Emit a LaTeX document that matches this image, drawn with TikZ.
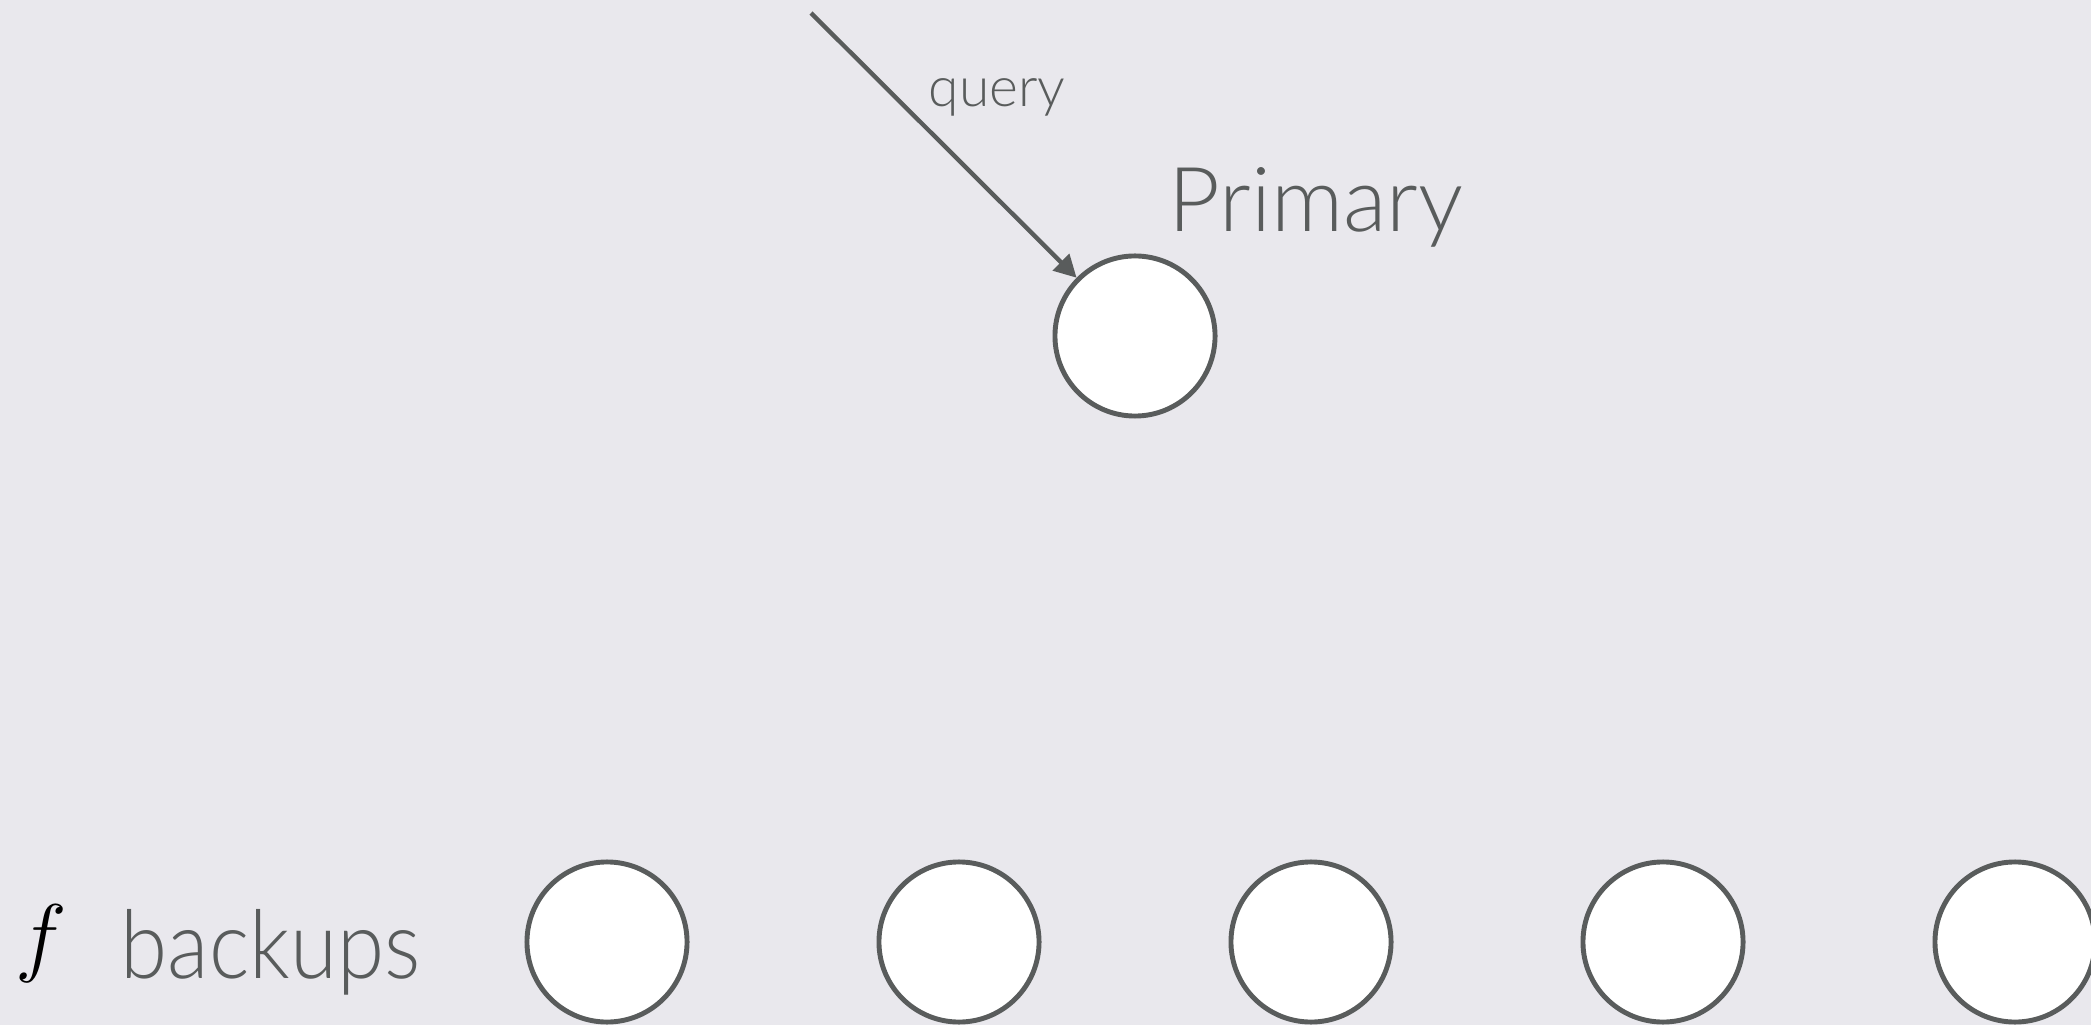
\documentclass[tikz,border=0pt]{standalone}
\usepackage{fontspec}
\newfontfamily\labfont{Lato Light}
\usetikzlibrary{arrows.meta}
\definecolor{bgcol}{RGB}{233,232,237}
\definecolor{inkcol}{RGB}{89,92,92}
\tikzset{
  server/.style={circle, draw=inkcol, fill=white, line width=1.4pt, minimum size=1.6cm, inner sep=0pt},
  conn/.style={draw=inkcol, line width=1.25pt, -{Triangle[length=6.3pt,width=6.5pt]}},
  lbl/.style={text=inkcol, inner sep=0pt, anchor=base west, font=\labfont}
}
\begin{document}
\begin{tikzpicture}[x=0.01cm, y=-0.01cm]
\fill[bgcol] (0,0) rectangle (2091,1025);
\useasboundingbox (0,0) rectangle (2091,1025);
\node[server] (p) at (1135,336) {};
\node[server] (b1) at (607,942) {};
\node[server] (b2) at (959,942) {};
\node[server] (b3) at (1311,942) {};
\node[server] (b4) at (1663,942) {};
\node[server] (b5) at (2015,942) {};
\coordinate (qs) at (811,13);
\draw[conn] (qs) -- (p);
\node[lbl, font=\labfont\fontsize{15.7}{18}\selectfont] (ql) at (928,107) {query};
\node[lbl, font=\labfont\fontsize{25.5}{28}\selectfont] (pl) at (1168,232) {Primary};
\node[lbl, font=\labfont\fontsize{27}{30}\selectfont] (bl) at (120,978) {\scalebox{0.9}[1]{backups}};
\node[anchor=base west, inner sep=0pt, font=\fontsize{26}{28}\selectfont] (fl) at (15,965) {$f$};
\end{tikzpicture}
\end{document}
